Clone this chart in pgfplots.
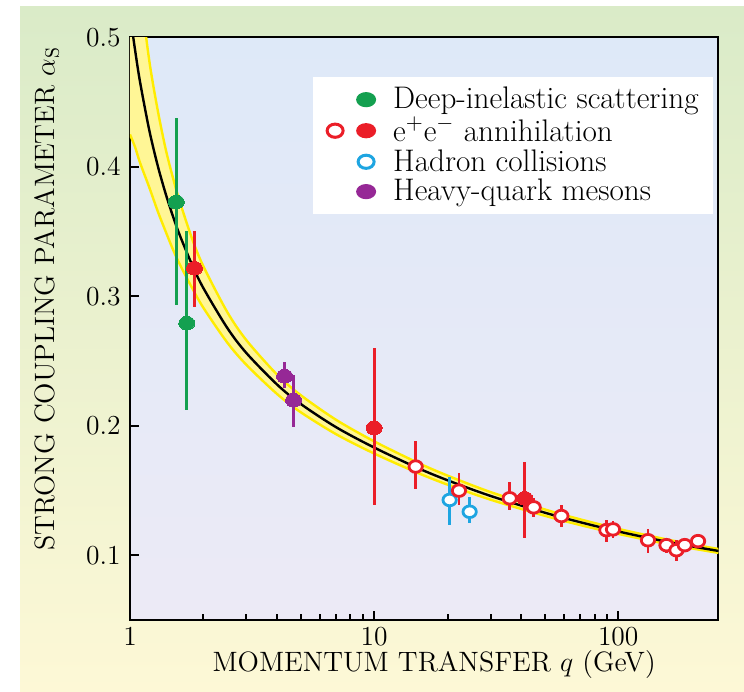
\RequirePackage{fix-cm}
\documentclass[border=0pt]{standalone}
\usepackage{fontspec}
\usepackage{pgfplots}
\pgfplotsset{compat=1.18}
\definecolor{dgreen}{RGB}{20,160,80}
\definecolor{dred}{RGB}{235,30,40}
\definecolor{dblue}{RGB}{30,165,225}
\definecolor{dpurple}{RGB}{150,40,150}
\definecolor{bandfill}{RGB}{255,246,150}
\definecolor{bandedge}{RGB}{255,236,0}
\definecolor{bgtop}{RGB}{218,235,200}
\definecolor{bgbot}{RGB}{253,248,214}
\definecolor{axtop}{RGB}{222,233,248}
\definecolor{axbot}{RGB}{236,234,246}
\newcommand{\tfont}{\fontsize{13.75}{16}\selectfont}
\newcommand{\xfont}{\fontsize{14}{16}\selectfont}
\newcommand{\lfont}{\fontsize{15.6}{17}\selectfont}
\pgfplotsset{
  errb/.style={/pgfplots/error bars/y dir=both, /pgfplots/error bars/y explicit,
    /pgfplots/error bars/error mark=none,
    /pgfplots/error bars/error bar style={#1, line width=1.4pt}},
}
\begin{document}
\begin{tikzpicture}
\useasboundingbox (0,0) rectangle (372pt,345.5pt);
\shade[top color=bgtop, bottom color=bgbot] (10pt,0) rectangle (372pt,342pt);
\begin{axis}[
  at={(65pt,35.5pt)}, anchor=south west,
  width=294.15pt, height=291.35pt, scale only axis,
  xmode=log, xmin=1, xmax=257, ymin=0.05, ymax=0.5,
  axis background/.style={shade, top color=axtop, bottom color=axbot},
  axis line style={line width=1pt, black},
  xtick={1,10,100}, xticklabels={1,10,100}, minor xtick={},
  ytick={0.1,0.2,0.3,0.4,0.5}, yticklabels={0.1,0.2,0.3,0.4,0.5},
  tick pos=left, tick align=inside, major tick length=4.5pt,
  every tick/.style={black, line width=1pt},
  tick label style={font=\tfont},
  yticklabel style={xshift=-1.2pt},
  xlabel={MOMENTUM TRANSFER $q$ (GeV)},
  ylabel={STRONG COUPLING PARAMETER $\alpha_{\mathrm{S}}$},
  xlabel style={font=\xfont, at={(axis description cs:0.517,0)}, anchor=center, yshift=-22.5pt},
  ylabel style={font=\xfont, at={(axis description cs:-0.141,0.551)}, anchor=center},
  legend style={at={(axis description cs:0.991,0.932)}, anchor=north east,
    draw=none, fill=white, inner xsep=5pt, inner ysep=5pt, font=\lfont,
    row sep=2.6pt, nodes={inner ysep=0pt}},
  legend cell align=left,
]
% band fill (upper edge forward, lower edge backward)
\addplot[forget plot, fill=bandfill, draw=none, smooth] coordinates {
(1.00,0.6211)(1.05,0.5757)(1.1,0.5379)(1.2,0.4817)(1.3,0.4433)(1.4,0.4137)(1.5,0.3914)(1.6,0.3730)(1.8,0.3440)(2.0,0.3230)(2.5,0.2880)(3.0,0.2660)(4.0,0.2396)(5.0,0.2237)(7.0,0.2045)(10,0.1880)(15,0.1717)(20,0.1615)(30,0.1488)(50,0.1354)(70,0.1277)(100,0.1204)(150,0.1131)(200,0.1085)(260,0.1047)
(260,0.1017)(200,0.1053)(150,0.1096)(100,0.1165)(70,0.1233)(50,0.1305)(30,0.1429)(20,0.1545)(15,0.1638)(10,0.1786)(7.0,0.1934)(5.0,0.2105)(4.0,0.2246)(3.0,0.2470)(2.5,0.2644)(2.0,0.2910)(1.8,0.3061)(1.6,0.3246)(1.5,0.3361)(1.4,0.3500)(1.3,0.3655)(1.2,0.3840)(1.1,0.4030)(1.05,0.4150)(1.00,0.4250)} -- cycle;
% band edges
\addplot[forget plot, bandedge, line width=1.2pt, smooth] coordinates {
(1.00,0.6211)(1.05,0.5757)(1.1,0.5379)(1.2,0.4817)(1.3,0.4433)(1.4,0.4137)(1.5,0.3914)(1.6,0.3730)(1.8,0.3440)(2.0,0.3230)(2.5,0.2880)(3.0,0.2660)(4.0,0.2396)(5.0,0.2237)(7.0,0.2045)(10,0.1880)(15,0.1717)(20,0.1615)(30,0.1488)(50,0.1354)(70,0.1277)(100,0.1204)(150,0.1131)(200,0.1085)(260,0.1047)};
\addplot[forget plot, bandedge, line width=1.2pt, smooth] coordinates {
(1.00,0.4250)(1.05,0.4150)(1.1,0.4030)(1.2,0.3840)(1.3,0.3655)(1.4,0.3500)(1.5,0.3361)(1.6,0.3246)(1.8,0.3061)(2.0,0.2910)(2.5,0.2644)(3.0,0.2470)(4.0,0.2246)(5.0,0.2105)(7.0,0.1934)(10,0.1786)(15,0.1638)(20,0.1545)(30,0.1429)(50,0.1305)(70,0.1233)(100,0.1165)(150,0.1096)(200,0.1053)(260,0.1017)};
% central curve
\addplot[forget plot, black, line width=1.2pt, smooth] coordinates {
(1.00,0.518)(1.05,0.4897)(1.1,0.4653)(1.2,0.4281)(1.3,0.4006)(1.4,0.3792)(1.5,0.3617)(1.6,0.3471)(1.8,0.3239)(2.0,0.3062)(2.5,0.2757)(3.0,0.2561)(4.0,0.2319)(5.0,0.2169)(7.0,0.1988)(10,0.1832)(15,0.1676)(20,0.1579)(30,0.1458)(50,0.1329)(70,0.1255)(100,0.1184)(150,0.1113)(200,0.1069)(260,0.1032)};
% Deep-inelastic scattering
\addplot[forget plot, dgreen, only marks, mark=*, mark size=3.4pt, mark options={xscale=1.18, fill=dgreen, draw=dgreen, line width=0pt},
  errb=dgreen] coordinates {
(1.547,0.3728) += (0,0.0647) -= (0,0.0796)
(1.709,0.2792) += (0,0.0716) -= (0,0.0673)};
% Heavy-quark mesons
\addplot[forget plot, dpurple, only marks, mark=*, mark size=3.4pt, mark options={xscale=1.18, fill=dpurple, draw=dpurple, line width=0pt},
  errb=dpurple] coordinates {
(4.298,0.2383) += (0,0.0109) -= (0,0.0090)
(4.677,0.2197) += (0,0.0192) -= (0,0.0206)};
% Hadron collisions
\addplot[forget plot, dblue, only marks, mark=*, mark size=2.9pt, mark options={xscale=1.15, fill=white, draw=dblue, line width=1.4pt},
  errb=dblue] coordinates {
(20.39,0.1427) += (0,0.0180) -= (0,0.0194)
(24.62,0.1336) += (0,0.0116) -= (0,0.0085)};
% e+e- open
\addplot[forget plot, dred, only marks, mark=*, mark size=2.9pt, mark options={xscale=1.15, fill=white, draw=dred, line width=1.4pt},
  errb=dred] coordinates {
(14.8,0.1685) += (0,0.0194) -= (0,0.0175)
(22.26,0.1499) += (0,0.0139) -= (0,0.0111)
(35.93,0.1440) += (0,0.0129) -= (0,0.0091)
(45.05,0.1370) += (0,0.0070) -= (0,0.0073)
(58.5,0.1303) += (0,0.0085) -= (0,0.0083)
(89.4,0.1194) += (0,0.0078) -= (0,0.0091)
(95.2,0.1200) += (0,0.0064) -= (0,0.0068)
(132.4,0.1116) += (0,0.0084) -= (0,0.0098)
(157.6,0.1078) += (0,0.0059) -= (0,0.0060)
(173.2,0.1039) += (0,0.0077) -= (0,0.0083)
(187.3,0.1078) += (0,0.0030) -= (0,0.0030)
(212.3,0.1109) += (0,0.0030) -= (0,0.0030)};
% e+e- filled
\addplot[forget plot, dred, only marks, mark=*, mark size=3.4pt, mark options={xscale=1.18, fill=dred, draw=dred, line width=0pt},
  errb=dred] coordinates {
(1.838,0.3216) += (0,0.0292) -= (0,0.0302)
(10.0,0.1983) += (0,0.0617) -= (0,0.0595)
(41.4,0.1440) += (0,0.0284) -= (0,0.0303)};
% legend
\addlegendimage{dgreen, legend image code/.code={\path[draw=none, fill=none] (0pt,-3pt) rectangle (33pt,3pt); \fill[dgreen, draw=none] (21.5pt,0pt) ellipse (5pt and 3.8pt);}}
\addlegendentry{Deep-inelastic scattering}
\addlegendimage{dred, legend image code/.code={\path[draw=none, fill=none] (0pt,-3pt) rectangle (33pt,3pt); \draw[dred, fill=white, line width=1.5pt] (6pt,0pt) ellipse (4pt and 3.3pt); \fill[dred, draw=none] (21.5pt,0pt) ellipse (5pt and 3.8pt);}}
\addlegendentry{e$^{+}$e$^{-}$ annihilation}
\addlegendimage{dblue, legend image code/.code={\path[draw=none, fill=none] (0pt,-3pt) rectangle (33pt,3pt); \draw[dblue, fill=white, line width=1.5pt] (21.5pt,0pt) ellipse (4pt and 3.3pt);}}
\addlegendentry{Hadron collisions}
\addlegendimage{dpurple, legend image code/.code={\path[draw=none, fill=none] (0pt,-3pt) rectangle (33pt,3pt); \fill[dpurple, draw=none] (21.5pt,0pt) ellipse (5pt and 3.8pt);}}
\addlegendentry{Heavy-quark mesons}
\end{axis}
\end{tikzpicture}
\end{document}
